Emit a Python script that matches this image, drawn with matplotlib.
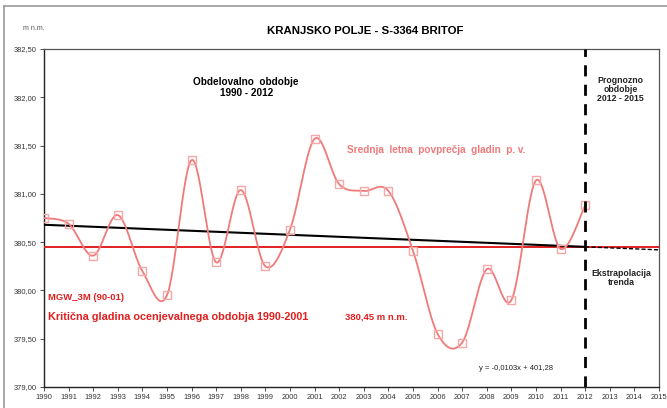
import numpy as np
import matplotlib
matplotlib.use("Agg")
import matplotlib.pyplot as plt
from matplotlib.lines import Line2D

plt.rcParams['font.family'] = ['Liberation Sans', 'DejaVu Sans']

# ---- data ----
years = list(range(1990, 2013))
levels = [380.75, 380.69, 380.36, 380.78, 380.20, 379.95, 381.35, 380.29, 381.04,
          380.25, 380.63, 381.57, 381.10, 381.03, 381.03, 380.41, 379.55, 379.46,
          380.22, 379.90, 381.14, 380.43, 380.88]
critical_level = 380.45
forecast_start = 2012
x_ticks = list(range(1990, 2016))
y_ticks = [379.0, 379.5, 380.0, 380.5, 381.0, 381.5, 382.0, 382.5]

def fmt(v):
    return f"{v:.2f}".replace('.', ',')

def smooth(xs, ys, n=30):
    xs = np.asarray(xs, float); ys = np.asarray(ys, float)
    P = np.column_stack([xs, ys])
    P = np.vstack([P[0], P, P[-1]])
    out = []
    t = np.linspace(0, 1, n)
    for i in range(1, len(P) - 2):
        p0, p1, p2, p3 = P[i - 1], P[i], P[i + 1], P[i + 2]
        c1 = p1 + (p2 - p0) / 6
        c2 = p2 - (p3 - p1) / 6
        seg = ((1 - t)[:, None] ** 3 * p1 + 3 * ((1 - t) ** 2 * t)[:, None] * c1
               + 3 * ((1 - t) * t ** 2)[:, None] * c2 + (t ** 3)[:, None] * p2)
        out.append(seg if i == 1 else seg[1:])
    s = np.vstack(out)
    return s[:, 0], s[:, 1]

fig = plt.figure(figsize=(6.67, 4.08), dpi=100)
ax = fig.add_axes([44 / 667, 1 - 387 / 408, (659 - 44) / 667, (387 - 49) / 408])

# outer chart border (left and top)
fig.add_artist(Line2D([4 / 667, 4 / 667], [0, 1 - 6 / 408], color='#9a9a9a', lw=1.2, transform=fig.transFigure))
fig.add_artist(Line2D([4 / 667, 1], [1 - 6 / 408, 1 - 6 / 408], color='#9a9a9a', lw=1.2, transform=fig.transFigure))

# trend line
coef = np.polyfit(years, levels, 1)
tx = np.array([1990, forecast_start])
ax.plot(tx, np.polyval(coef, tx), color='black', lw=1.5, zorder=4)
tx2 = np.array([forecast_start, 2015])
ax.plot(tx2, np.polyval(coef, tx2), color='black', lw=1.0, ls=(0, (3, 1.5)), zorder=4)

# critical level
ax.axhline(critical_level, color='#e02020', lw=1.4, zorder=3)

# smooth series
sx, sy = smooth(years, levels)
ax.plot(sx, sy, color='#f07a7a', lw=1.3, zorder=5)
ax.plot(years, levels, ls='none', marker='s', ms=6, mfc='none', mec='#f5a8a8', mew=1.0, zorder=6)

# forecast divider
ax.axvline(forecast_start, color='black', lw=2.0, ls=(0, (4, 3)), zorder=7)

ax.set_xlim(1990, 2015)
ax.set_ylim(379.0, 382.5)
ax.set_xticks(x_ticks)
ax.set_xticklabels([str(v) for v in x_ticks], fontsize=5.4, color='#333333')
ax.set_yticks(y_ticks)
ax.set_yticklabels([fmt(v) for v in y_ticks], fontsize=5.4, color='#333333')
ax.tick_params(axis='x', length=3, width=0.6, color='#333333', pad=2)
ax.tick_params(axis='y', length=3, width=0.6, color='#333333', pad=2)
for side in ['left', 'bottom']:
    ax.spines[side].set_color('#222222'); ax.spines[side].set_linewidth(1.0)
for side in ['top', 'right']:
    ax.spines[side].set_color('#555555'); ax.spines[side].set_linewidth(0.9)

# texts
fig.text(365 / 667, 1 - 31 / 408, 'KRANJSKO POLJE - S-3364 BRITOF', fontsize=8.2, fontweight='bold',
         ha='center', va='center')
fig.text(34 / 667, 1 - 29 / 408, 'm n.m.', fontsize=5, color='#555555', ha='center', va='center')

ax.text(1998.22, 382.10, 'Obdelovalno  obdobje\n1990 - 2012', fontsize=7.2, fontweight='bold',
        ha='center', va='center', linespacing=1.2)
ax.text(2013.45, 382.08, 'Prognozno\nobdobje\n2012 - 2015', fontsize=6.3, fontweight='bold',
        ha='center', va='center', linespacing=1.05, color='#222222')
ax.text(2002.3, 381.45, 'Srednja  letna  povprečja  gladin  p. v.', fontsize=7.2, fontweight='bold',
        color='#f07a7a', ha='left', va='center')
ax.text(1990.15, 379.93, 'MGW_3M (90-01)', fontsize=6.8, fontweight='bold', color='#e02020',
        ha='left', va='center')
ax.text(1990.15, 379.73, 'Kritična gladina ocenjevalnega obdobja 1990-2001', fontsize=7.8,
        fontweight='bold', color='#e02020', ha='left', va='center')
ax.text(2002.25, 379.73, '380,45 m n.m.', fontsize=6.8, fontweight='bold', color='#e02020',
        ha='left', va='center')
ax.text(2013.45, 380.13, 'Ekstrapolacija\ntrenda', fontsize=6.3, fontweight='bold', color='#222222',
        ha='center', va='center', linespacing=1.05)
ax.text(2010.7, 379.19, 'y = -0,0103x + 401,28', fontsize=5.5, ha='right', va='center', color='#222222')

fig.savefig('out.png', dpi=100)
